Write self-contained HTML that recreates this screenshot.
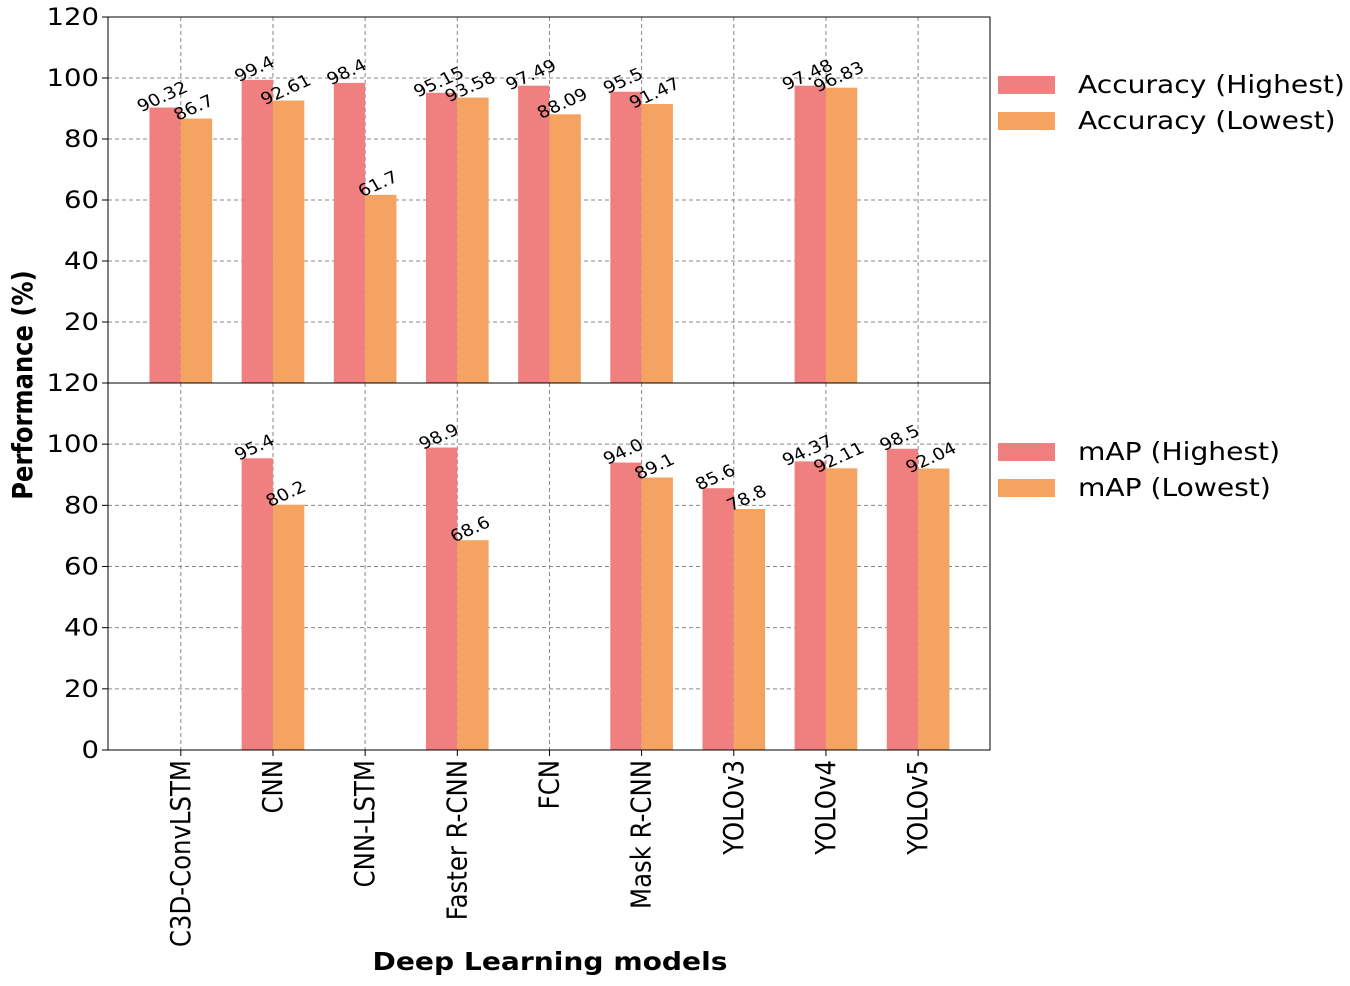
<!DOCTYPE html>
<html><head><meta charset="utf-8"><style>
body{margin:0;background:#fff;}
svg text{font-family:"DejaVu Sans","Liberation Sans",sans-serif;}
</style></head><body>
<svg id="chart" width="1350" height="981" xmlns="http://www.w3.org/2000/svg"></svg>
<script>
const categories=["C3D-ConvLSTM","CNN","CNN-LSTM","Faster R-CNN","FCN","Mask R-CNN","YOLOv3","YOLOv4","YOLOv5"];
const accHigh=[90.32,99.4,98.4,95.15,97.49,95.5,null,97.48,null];
const accLow=[86.7,92.61,61.7,93.58,88.09,91.47,null,96.83,null];
const mapHigh=[null,95.4,null,98.9,null,94.0,85.6,94.37,98.5];
const mapLow=[null,80.2,null,68.6,null,89.1,78.8,92.11,92.04];
const mapHighLabels=[null,"95.4",null,"98.9",null,"94.0","85.6","94.37","98.5"];
const yTicksTop=[20,40,60,80,100,120];
const yTicksBottom=[0,20,40,60,80,100,120];

const NS="http://www.w3.org/2000/svg";
const svg=document.getElementById('chart');
const L=108,R=990,xmin=-0.79,xmax=8.78,bw=0.34;
const SX=1.25,SY=1.1;
const x=v=>L+(v-xmin)/(xmax-xmin)*(R-L);
const panels=[{top:17,bot:383},{top:383,bot:750}];
const yf=(p,v)=>p.bot-v/120*(p.bot-p.top);
function el(t,a,txt){const e=document.createElementNS(NS,t);for(const k in a)e.setAttribute(k,a[k]);if(txt!=null)e.textContent=txt;svg.appendChild(e);return e;}
function txt(px,py,s,size,anchor,rot,extra){
  const a={x:0,y:0,'text-anchor':anchor,'font-size':size,fill:'#000',transform:`translate(${px} ${py}) scale(${SX} ${SY}) rotate(${rot})`};
  if(extra)Object.assign(a,extra);
  return el('text',a,s);
}
const C1="#f08080",C2="#f4a460";

function panel(p,hi,lo,hiLab,ticks,legend,pname){
  ticks.forEach(t=>{
    const g=el('line',{x1:L,x2:R,y1:yf(p,t),y2:yf(p,t),stroke:'#888','stroke-dasharray':'4,3','stroke-width':1});
    
    const tl=txt(L-9,yf(p,t)+8,String(t),22,'end',0);
    
    el('line',{x1:L-6,x2:L,y1:yf(p,t),y2:yf(p,t),stroke:'#000'});
  });
  categories.forEach((c,i)=>{
    const g=el('line',{x1:x(i),x2:x(i),y1:p.top,y2:p.bot,stroke:'#888','stroke-dasharray':'4,3','stroke-width':1});
    
  });
  [[hi,C1,-bw/2,'high'],[lo,C2,bw/2,'low']].forEach(([arr,col,off,nm])=>{
    arr.forEach((v,i)=>{
      if(v==null)return;
      const x0=x(i+off-bw/2),x1=x(i+off+bw/2);
      const r=el('rect',{x:x0,y:yf(p,v),width:x1-x0,height:p.bot-yf(p,v),fill:col});
      
      const cx=(x0+x1)/2,cy=yf(p,v)-6;
      const lab=(nm==='high'&&hiLab)?hiLab[i]:String(v);
      const t=txt(cx,cy,lab,15,'middle',-27);
      
    });
  });
  const f=el('rect',{x:L,y:p.top,width:R-L,height:p.bot-p.top,fill:'none',stroke:'#000','stroke-width':1});
  
  legend.forEach(lg=>{
    const y=lg.y;
    const r=el('rect',{x:998,y:y-9,width:57,height:18,fill:lg.c});
    
    const t=txt(1078,y+8,lg.t,22.5,'start',0);
    
  });
}
panel(panels[0],accHigh,accLow,null,yTicksTop,[{y:85,c:C1,t:'Accuracy (Highest)'},{y:121,c:C2,t:'Accuracy (Lowest)'}],'accuracy');
panel(panels[1],mapHigh,mapLow,mapHighLabels,yTicksBottom,[{y:452,c:C1,t:'mAP (Highest)'},{y:488,c:C2,t:'mAP (Lowest)'}],'map');

categories.forEach((c,i)=>{
  el('line',{x1:x(i),x2:x(i),y1:750,y2:756,stroke:'#000'});
  const t=txt(x(i)+9,760,c,22.2,'end',-90);
  
});
const xl=txt(550,970,'Deep Learning models',22.5,'middle',0,{'font-weight':'bold'});

const yl=txt(32,385,'Performance (%)',22,'middle',-90,{'font-weight':'bold'});

</script>
</body></html>
